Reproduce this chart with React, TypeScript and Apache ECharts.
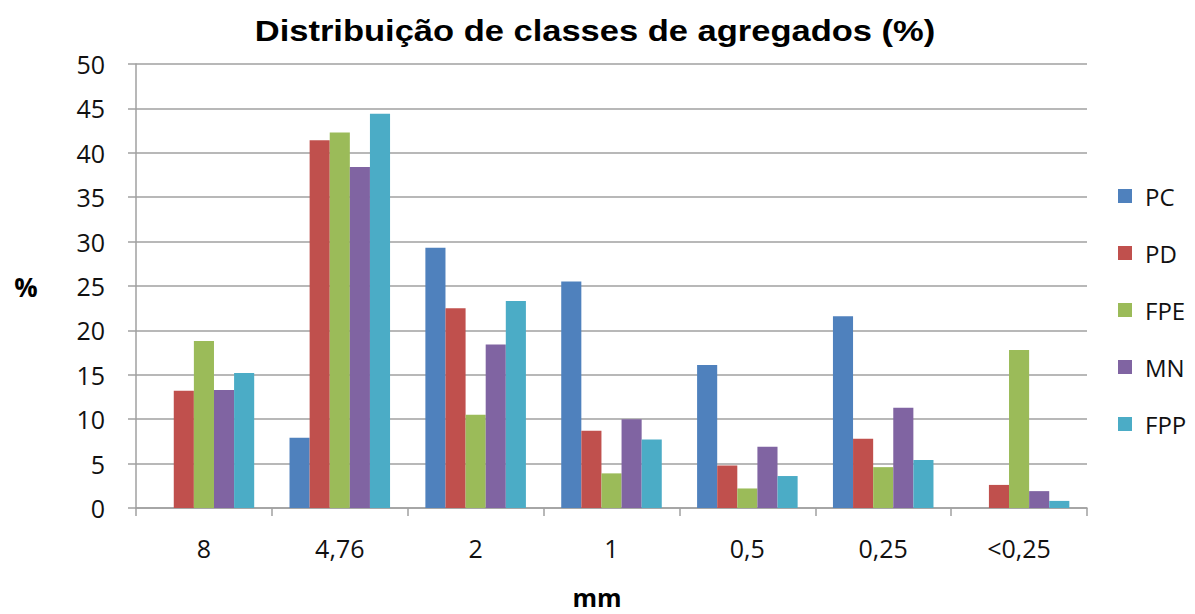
import React, { useEffect, useRef } from "react";
import * as echarts from "echarts";

const categories = ["8", "4,76", "2", "1", "0,5", "0,25", "<0,25"];
const seriesNames = ["PC", "PD", "FPE", "MN", "FPP"];
const pcValues = [0, 7.9, 29.3, 25.5, 16.1, 21.6, 0];
const pdValues = [13.2, 41.4, 22.5, 8.7, 4.8, 7.8, 2.6];
const fpeValues = [18.8, 42.3, 10.5, 3.9, 2.2, 4.6, 17.8];
const mnValues = [13.3, 38.4, 18.4, 10.0, 6.9, 11.3, 1.9];
const fppValues = [15.2, 44.4, 23.3, 7.7, 3.6, 5.4, 0.8];
const colors = ["#4F81BD", "#C0504D", "#9BBB59", "#8064A2", "#4BACC6"];
const yTicks = { min: 0, max: 50, interval: 5 };
const titleText = "Distribuição de classes de agregados (%)";
const yName = "%";
const xName = "mm";

const allValues = [pcValues, pdValues, fpeValues, mnValues, fppValues];

export default function App() {
  const ref = useRef<HTMLDivElement>(null);
  useEffect(() => {
    if (!ref.current) return;
    const chart = echarts.init(ref.current, null, { renderer: "svg" });
    const gray = "#a0a0a0";
    const labelFont = "'Open Sans', 'Liberation Sans', sans-serif";
    chart.setOption({
      animation: false,
      backgroundColor: "#ffffff",
      legend: {
        orient: "vertical",
        left: 1113,
        top: 179,
        itemWidth: 14,
        itemHeight: 14,
        itemGap: 33,
        icon: "rect",
        data: seriesNames,
        textStyle: {
          fontFamily: labelFont,
          fontSize: 24,
          lineHeight: 24,
          color: "#111111",
          padding: [0, 0, 0, 8],
        },
      },
      grid: { left: 136, right: 108, top: 64, bottom: 106 },
      xAxis: {
        type: "category",
        data: categories,
        axisLine: { lineStyle: { color: gray, width: 1.5 } },
        axisTick: { show: true, length: 8, lineStyle: { color: gray, width: 1.5 } },
        axisLabel: {
          margin: 27,
          fontFamily: labelFont,
          fontSize: 25,
          color: "#111111",
        },
      },
      yAxis: {
        type: "value",
        min: yTicks.min,
        max: yTicks.max,
        interval: yTicks.interval,
        axisLine: { show: true, lineStyle: { color: gray, width: 1.5 } },
        axisTick: { show: true, length: 8, lineStyle: { color: gray, width: 1.5 } },
        splitLine: { show: true, lineStyle: { color: gray, width: 1.5 } },
        axisLabel: {
          margin: 31,
          fontFamily: labelFont,
          fontSize: 25,
          color: "#111111",
        },
      },
      graphic: [
        {
          type: "text",
          x: 595,
          y: 31,
          scaleX: 1.19,
          style: {
            text: titleText,
            fontFamily: "'Liberation Sans', Arial, sans-serif",
            fontWeight: "bold",
            fontSize: 29,
            fill: "#000000",
            textAlign: "center",
            textVerticalAlign: "middle",
          },
        },
        {
          type: "text",
          x: 26,
          y: 287,
          style: {
            text: yName,
            fontFamily: labelFont,
            fontWeight: "bold",
            fontSize: 26,
            fill: "#000000",
            textAlign: "center",
            textVerticalAlign: "middle",
          },
        },
        {
          type: "text",
          x: 597,
          y: 597,
          style: {
            text: xName,
            fontFamily: labelFont,
            fontWeight: "bold",
            fontSize: 25,
            fill: "#000000",
            textAlign: "center",
            textVerticalAlign: "middle",
          },
        },
      ],
      series: seriesNames.map((name, i) => ({
        name,
        type: "bar",
        data: allValues[i],
        barGap: "0%",
        barCategoryGap: "26%",
        itemStyle: { color: colors[i] },
      })),
    });
    return () => chart.dispose();
  }, []);
  return (
    <div
      ref={ref}
      style={{ position: "absolute", top: 0, left: 0, width: 1195, height: 614 }}
    />
  );
}
